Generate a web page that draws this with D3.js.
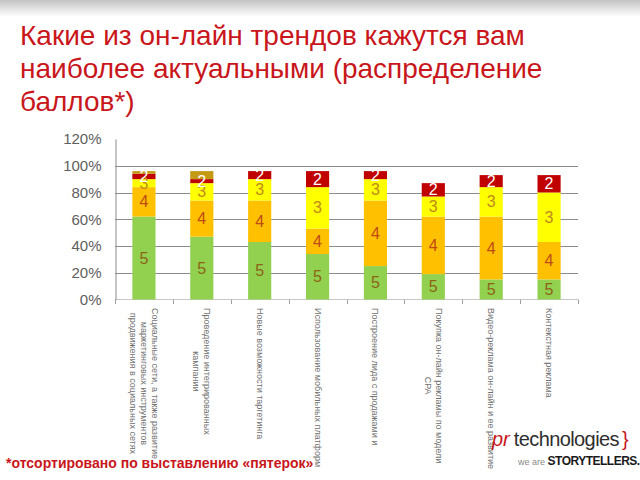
<!DOCTYPE html>
<html>
<head>
<meta charset="utf-8">
<script src="https://cdn.jsdelivr.net/npm/d3@7"></script>
<style>
  body { margin: 0; background: #fff; }
  svg { display: block; font-family: "Liberation Sans", Arial, sans-serif; }
</style>
</head>
<body>
<svg id="chart" width="640" height="480"></svg>
<script>
// categories, one array of lines per bar (labels are wrapped like in the slide)
const categories = [
  ["Социальные сети, а также развитие", "маркетинговых инструментов", "продвижения в социальных сетях"],
  ["Проведение интегрированных", "кампании"],
  ["Новые возможности таргетинга"],
  ["Использование мобильных платформ"],
  ["Построение лида с продажами и"],
  ["Покупка он-лайн рекламы по модели", "CPA"],
  ["Видео-реклама он-лайн и ее развитие"],
  ["Контекстная реклама"]
];

// share of each score, percent
const score5 = [62, 47, 43, 34, 25, 19, 15, 15];
const score4 = [22, 27, 31, 19, 49, 43, 47, 28];
const score3 = [6, 13, 16, 31, 16, 15, 22, 37];
const score2 = [4, 3, 6, 12, 6, 10, 9, 13];
const score1 = [2, 6, 0, 0, 0, 0, 0, 0];

const keys = ["5", "4", "3", "2", "1"];
const y_ticks = [0, 20, 40, 60, 80, 100, 120];

const title_lines = [
  "Какие из он-лайн трендов кажутся вам",
  "наиболее актуальными (распределение",
  "баллов*)"
];

const seg_colors = {"5": "#92D050", "4": "#FFC000", "3": "#FFFF00", "2": "#C00000", "1": "#C49A14"};
const label_colors = {"5": "#8C6418", "4": "#BE4A16", "3": "#C08A1C", "2": "#FFFFFF"};

const svg = d3.select("#chart");

// grey band on top of the slide
const defs = svg.append("defs");
const grad = defs.append("linearGradient")
  .attr("id", "topband").attr("x1", 0).attr("y1", 0).attr("x2", 0).attr("y2", 1);
grad.append("stop").attr("offset", "0%").attr("stop-color", "#c4c4c4");
grad.append("stop").attr("offset", "100%").attr("stop-color", "#ffffff");
svg.append("rect").attr("x", 0).attr("y", 0).attr("width", 640).attr("height", 17)
  .attr("fill", "url(#topband)");

// title
svg.append("g").selectAll("text")
  .data(title_lines)
  .join("text")
  .attr("x", 20)
  .attr("y", (d, i) => 45 + i * 33)
  .attr("fill", "#C8161B")
  .style("font-size", "28px")
  .text(d => d);

const table = score5.map((v, i) => ({
  idx: i, "5": v, "4": score4[i], "3": score3[i], "2": score2[i], "1": score1[i]
}));

const x_scale = d3.scaleBand()
  .domain(d3.range(categories.length))
  .range([115, 578]);

const y_scale = d3.scaleLinear()
  .domain([0, 120])
  .range([299.5, 139]);

const bar_w = x_scale.bandwidth() * 0.4;

// gridlines
svg.append("g")
  .selectAll("line")
  .data(y_ticks.filter(d => d > 0 && d < 120))
  .join("line")
  .attr("x1", 115).attr("x2", 578)
  .attr("y1", d => Math.round(y_scale(d)) + 0.5)
  .attr("y2", d => Math.round(y_scale(d)) + 0.5)
  .style("stroke", "#8c8c8c")
  .style("stroke-width", 1);

// x baseline + ticks between categories
svg.append("line")
  .attr("x1", 115).attr("x2", 578)
  .attr("y1", 299.5).attr("y2", 299.5)
  .style("stroke", "#c8c8c8");

svg.append("g")
  .selectAll("line")
  .data(d3.range(categories.length + 1))
  .join("line")
  .attr("x1", d => Math.round(115 + d * x_scale.step()) + 0.5)
  .attr("x2", d => Math.round(115 + d * x_scale.step()) + 0.5)
  .attr("y1", 299.5).attr("y2", 304)
  .style("stroke", "#a0a0a0");

// y axis
const y_axis = svg.append("g")
  .attr("transform", "translate(115.5, 0)")
  .call(d3.axisLeft(y_scale).tickValues(y_ticks).tickSize(0).tickPadding(14)
    .tickFormat(d => d + "%"));
y_axis.select(".domain").style("stroke", "#8c8c8c");
y_axis.selectAll("text")
  .style("font-size", "15px")
  .style("font-family", "'Liberation Sans', Arial, sans-serif")
  .attr("fill", "#606060");

// stacked bars
const stack = d3.stack().keys(keys);
const series = stack(table);

const layers = svg.append("g")
  .selectAll("g")
  .data(series)
  .join("g")
  .attr("fill", d => seg_colors[d.key]);

layers.selectAll("rect")
  .data(d => d)
  .join("rect")
  .attr("x", d => x_scale(d.data.idx) + (x_scale.bandwidth() - bar_w) / 2)
  .attr("y", d => y_scale(d[1]))
  .attr("width", bar_w)
  .attr("height", d => y_scale(d[0]) - y_scale(d[1]));

// value labels (the score number inside its segment)
const lab = svg.append("g");
series.forEach(s => {
  if (!label_colors[s.key]) return;
  lab.selectAll(null)
    .data(s.filter(d => d[1] - d[0] > 0))
    .join("text")
    .attr("x", d => x_scale(d.data.idx) + x_scale.bandwidth() / 2)
    .attr("y", d => (y_scale(d[0]) + y_scale(d[1])) / 2)
    .attr("text-anchor", "middle")
    .attr("dominant-baseline", "central")
    .attr("fill", label_colors[s.key])
    .style("font-size", "16px")
    .text(s.key);
});

// category labels, rotated to read top-down
const cat_g = svg.append("g")
  .selectAll("g")
  .data(categories)
  .join("g")
  .attr("transform", (d, i) => `translate(${x_scale(i) + x_scale.bandwidth() / 2}, 308) rotate(90)`);

cat_g.each(function(lines) {
  const g = d3.select(this);
  const n = lines.length;
  const texts = g.selectAll("text")
    .data(lines)
    .join("text")
    .attr("dominant-baseline", "central")
    .attr("fill", "#707070")
    .style("font-size", "9px")
    .text(d => d);
  const max_len = d3.max(texts.nodes(), t => t.getComputedTextLength());
  texts
    .attr("text-anchor", "middle")
    .attr("x", max_len / 2)
    .attr("y", (d, i) => (i - (n - 1) / 2) * 11);
});

// footnote
svg.append("text")
  .attr("x", 6)
  .attr("y", 468)
  .attr("fill", "#C8161B")
  .style("font-size", "14px")
  .style("font-weight", "bold")
  .text("*отсортировано по выставлению «пятерок»");

// logo
const logo = svg.append("text")
  .attr("x", 492)
  .attr("y", 446)
  .style("font-size", "20px");
logo.append("tspan").attr("fill", "#C8161B").style("font-style", "italic").text("pr");
logo.append("tspan").attr("fill", "#2e2e2e").attr("dx", 4)
  .style("letter-spacing", "-0.6px").text("technologies");
logo.append("tspan").attr("fill", "#C8161B").attr("dx", 3).text("}");

const tag = svg.append("text")
  .attr("x", 518)
  .attr("y", 465);
tag.append("tspan").attr("fill", "#8a8a8a").style("font-size", "9px").text("we are ");
tag.append("tspan").attr("fill", "#1a1a1a").style("font-size", "12px").style("font-weight", "bold")
  .style("letter-spacing", "-0.5px").text("STORYTELLERS.");
</script>
</body>
</html>
